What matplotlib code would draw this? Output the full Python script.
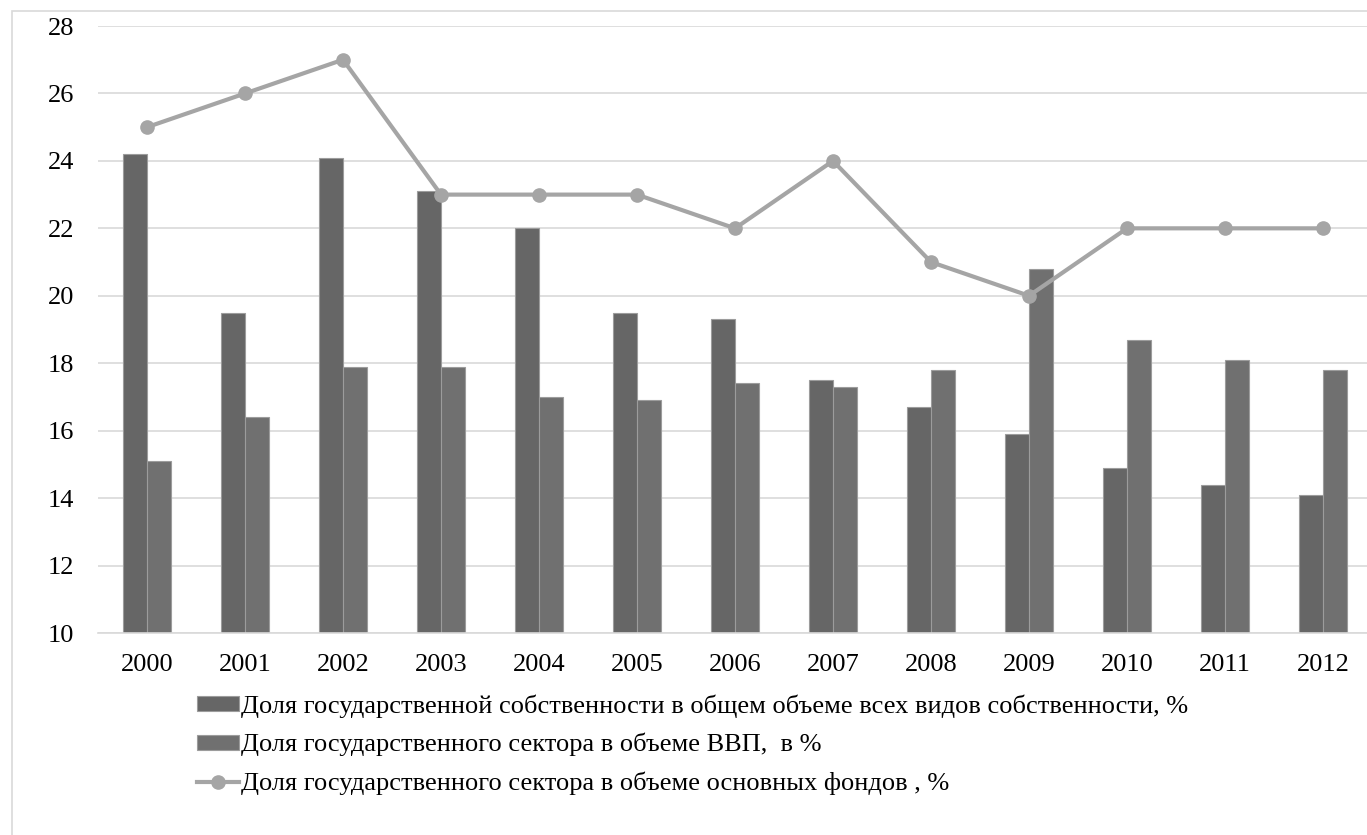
import matplotlib
matplotlib.use("Agg")
import matplotlib.pyplot as plt
from matplotlib.font_manager import FontProperties
from matplotlib.patches import Rectangle
import numpy as np

serif = ['Liberation Serif', 'DejaVu Serif']
plt.rcParams['font.family'] = serif

years = ['2000', '2001', '2002', '2003', '2004', '2005', '2006',
         '2007', '2008', '2009', '2010', '2011', '2012']
own_share = [24.2, 19.5, 24.1, 23.1, 22.0, 19.5, 19.3, 17.5, 16.7, 15.9, 14.9, 14.4, 14.1]
gdp_share = [15.1, 16.4, 17.9, 17.9, 17.0, 16.9, 17.4, 17.3, 17.8, 20.8, 18.7, 18.1, 17.8]
funds_share = [25, 26, 27, 23, 23, 23, 22, 24, 21, 20, 22, 22, 22]
yticks = [10, 12, 14, 16, 18, 20, 22, 24, 26, 28]

lbl_own = 'Доля государственной собственности в общем объеме всех видов собственности, %'
lbl_gdp = 'Доля государственного сектора в объеме ВВП,  в %'
lbl_funds = 'Доля государственного сектора в объеме основных фондов , %'

W, H = 1367, 835
fig = plt.figure(figsize=(W / 100, H / 100), dpi=100)
ax = fig.add_axes([98 / W, 1 - 633 / H, 1274 / W, (633 - 26) / H])

x = np.arange(len(years))
bw = 0.24
b1 = ax.bar(x - bw / 2, np.array(own_share) - 10, bw, bottom=10, color='#666666',
            edgecolor='#9c9c9c', linewidth=0.8, zorder=2, label=lbl_own)
b2 = ax.bar(x + bw / 2, np.array(gdp_share) - 10, bw, bottom=10, color='#707070',
            edgecolor='#9c9c9c', linewidth=0.8, zorder=2, label=lbl_gdp)
ln, = ax.plot(x, funds_share, color='#a5a5a5', lw=3, marker='o', ms=9.5,
              zorder=3, label=lbl_funds)

ax.set_xlim(-0.5, len(years) - 0.5)
ax.set_ylim(10, 28)
ax.set_yticks(yticks)
ax.set_yticklabels([str(v) for v in yticks], family=serif, fontsize=19)
ax.set_xticks(x)
ax.set_xticklabels(years, family=serif, fontsize=19)
ax.tick_params(length=0)
ax.tick_params(axis='y', pad=17)
ax.tick_params(axis='x', pad=15)
ax.grid(axis='y', color='#d9d9d9', lw=1.2, zorder=0)
for s in ['top', 'right', 'left']:
    ax.spines[s].set_visible(False)
ax.spines['bottom'].set_color('#d9d9d9')
ax.spines['bottom'].set_linewidth(1.2)

fig.legend(handles=[b1, b2, ln], loc='upper left',
           bbox_to_anchor=(184 / W, 1 - 681 / H), frameon=False,
           prop=FontProperties(family=serif, size=19),
           handlelength=1.6, handleheight=0.5, handletextpad=0.05,
           labelspacing=0.58, borderpad=0)

fig.patches.append(Rectangle((12 / W, -0.1), 1.5, 1 - 11 / H + 0.1,
                             transform=fig.transFigure, fill=False,
                             edgecolor='#d9d9d9', lw=1.2))

fig.savefig('out.png', dpi=100)
